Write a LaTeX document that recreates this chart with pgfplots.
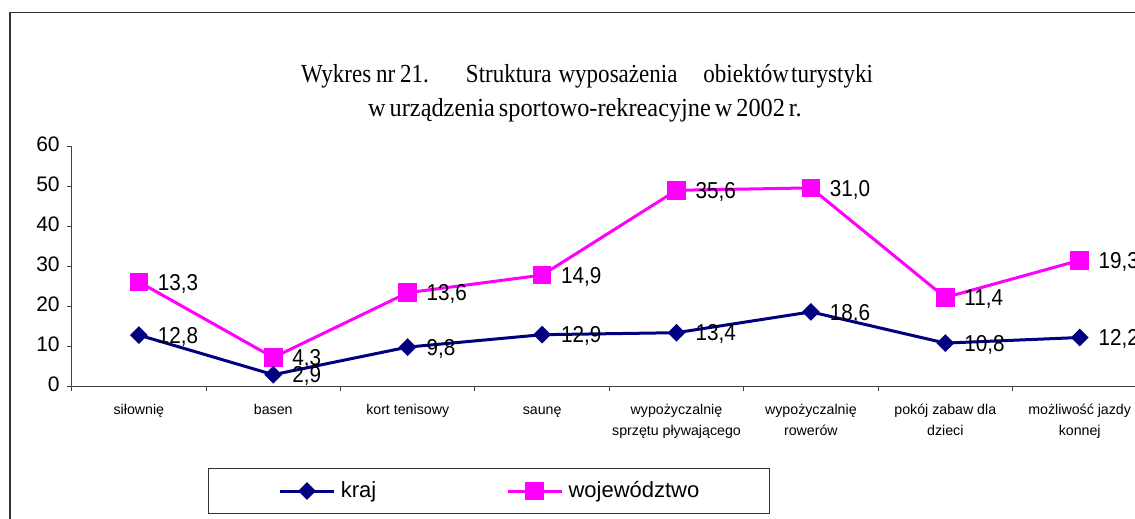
\documentclass[border=0pt]{standalone}
\usepackage{pgfplots}
\pgfplotsset{compat=1.18}
\usepackage{fontspec}
\setmainfont{Liberation Sans}
\newfontfamily\titlefont[FakeStretch=0.935,WordSpace=0.65]{Liberation Serif}
\newfontfamily\titlefonta[FakeStretch=0.885,WordSpace=0.85]{Liberation Serif}
\newfontfamily\condsans[FakeStretch=0.9]{Liberation Sans}
\definecolor{krajc}{RGB}{0,0,128}
\definecolor{wojc}{RGB}{255,0,255}
\begin{document}
\begin{tikzpicture}[x=1pt,y=1pt]
\useasboundingbox (0,0) rectangle (567.5,259.5);
\clip (0,0) rectangle (567.5,259.5);
\draw[line width=0.8pt, black!80] (5,-5) -- (5,253.2) -- (600,253.2);
\node[anchor=base, font=\titlefonta\fontsize{13}{15}\selectfont, inner sep=0pt] at (293.5,218.35)
  {Wykres nr 21.\hspace{18.5pt}Struktura\hspace{3.5pt}wyposażenia\hspace{13pt}obiektów\hspace{1pt}turystyki};
\node[anchor=base, font=\titlefont\fontsize{13}{15}\selectfont, inner sep=0pt] at (292.5,201)
  {w urządzenia sportowo-rekreacyjne w 2002 r.};
\begin{axis}[
  at={(35.85pt,66.35pt)}, anchor=south west,
  x=67.2pt, y=2pt,
  xmin=-0.5, xmax=7.5, ymin=0, ymax=60,
  clip=false,
  stack plots=y,
  axis lines=left,
  axis line style={-, black!75, line width=0.5pt},
  tick align=outside,
  major tick length=2.5pt, minor tick length=2.5pt,
  every tick/.style={black!75, line width=0.5pt},
  ytick={0,10,...,60},
  xtick={0,...,7},
  major x tick style={draw=none},
  minor xtick={-0.5,0.5,...,7.5},
  xticklabels={siłownię, basen, kort tenisowy, saunę, wypożyczalnię\\sprzętu pływającego, wypożyczalnię\\rowerów, pokój zabaw dla\\dzieci, możliwość jazdy\\konnej},
  typeset ticklabels with strut,
  xticklabel style={font=\fontsize{7.1}{10.5}\selectfont, align=center, anchor=north, inner sep=0pt, yshift=-4pt},
  yticklabel style={font=\fontsize{10.5}{12}\selectfont},
  /pgf/number format/assume math mode=true,
  point meta=rawy,
  nodes near coords={\pgfmathprintnumber[fixed,fixed zerofill,precision=1,use comma]{\pgfplotspointmeta}},
  nodes near coords style={anchor=base west, inner sep=0pt, xshift=8.75pt, yshift=-4.1pt, font=\condsans\fontsize{11.5}{13}\selectfont, text=black},
  legend columns=2,
  legend style={at={(0.12677,-0.3404)}, anchor=north west, draw=black!80, line width=0.5pt,
    inner xsep=35pt, inner ysep=6.5pt, font=\fontsize{11}{13}\selectfont, nodes={inner sep=0pt},
    /tikz/every odd column/.append style={column sep=2.7pt},
    /tikz/every even column/.append style={column sep=64.9pt}},
  legend image code/.code={\draw[mark repeat=2,mark phase=2] plot coordinates {(0pt,0pt)(13.5pt,0pt)(27pt,0pt)};},
]
\addplot[krajc, line width=1.5pt, mark=square*, mark size=2.39pt, mark options={rotate=45, solid, fill=krajc}]
  coordinates {(0,12.8)(1,2.9)(2,9.8)(3,12.9)(4,13.4)(5,18.6)(6,10.8)(7,12.2)};
\addlegendentry{kraj}
\addplot[wojc, line width=1.5pt, mark=square*, mark size=3.9pt, mark options={solid, fill=wojc}]
  coordinates {(0,13.3)(1,4.3)(2,13.6)(3,14.9)(4,35.6)(5,31.0)(6,11.4)(7,19.3)};
\addlegendentry{województwo}
\end{axis}
\end{tikzpicture}
\end{document}
